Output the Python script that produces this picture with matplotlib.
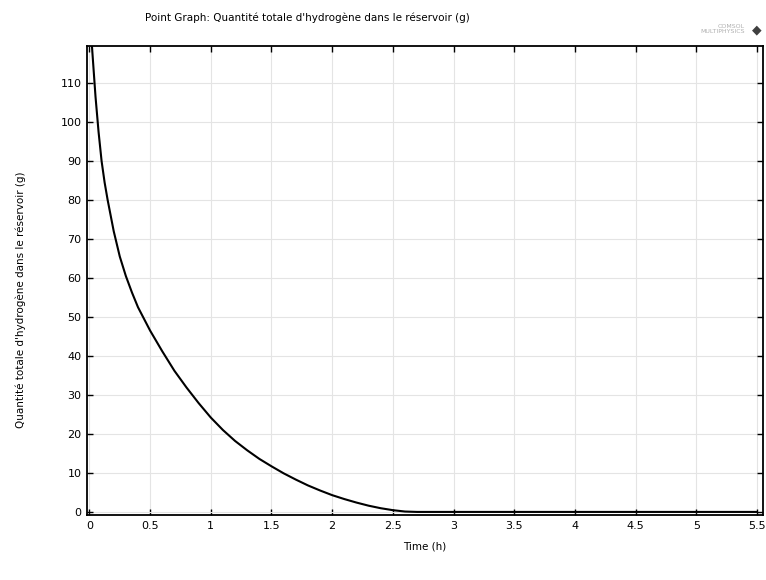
import numpy as np
import matplotlib.pyplot as plt

# time (h) and total hydrogen mass in the tank (g)
time_h = [0, 0.025, 0.05, 0.075, 0.1, 0.125, 0.15, 0.2, 0.25, 0.3, 0.35,
          0.4, 0.5, 0.6, 0.7, 0.8, 0.9, 1.0, 1.1, 1.2, 1.3, 1.4, 1.5, 1.6,
          1.7, 1.8, 1.9, 2.0, 2.1, 2.2, 2.3, 2.4, 2.5, 2.6, 2.7, 5.5]
mass_g = [129, 117.5, 106.5, 97.5, 90, 84.5, 80, 72, 65.5, 60.5, 56.3,
          52.5, 46.5, 41.2, 36.2, 31.9, 27.9, 24.2, 21.0, 18.2, 15.8, 13.6, 11.7, 9.9,
          8.3, 6.8, 5.5, 4.3, 3.3, 2.4, 1.6, 0.95, 0.45, 0.1, 0, 0]

xticks = [0, 0.5, 1, 1.5, 2, 2.5, 3, 3.5, 4, 4.5, 5, 5.5]
xticklabels = ["0", "0.5", "1", "1.5", "2", "2.5", "3", "3.5", "4", "4.5", "5", "5.5"]
yticks = [0, 10, 20, 30, 40, 50, 60, 70, 80, 90, 100, 110]

title = "Point Graph: Quantité totale d'hydrogène dans le réservoir (g)"
ylabel = "Quantité totale d'hydrogène dans le réservoir (g)"
xlabel = "Time (h)"

fig = plt.figure(figsize=(7.66, 5.8), dpi=100)
ax = fig.add_axes([0.1136, 0.112, 0.8825, 0.8087])

ax.plot(time_h, mass_g, color="black", lw=1.5)

ax.set_xlim(-0.02, 5.55)
ax.set_ylim(-0.8, 119.5)
ax.set_xticks(xticks)
ax.set_xticklabels(xticklabels)
ax.set_yticks(yticks)
ax.grid(True, color="#e4e4e4", lw=0.8)
ax.tick_params(direction="in", top=True, right=True, length=4, width=1,
               labelsize=8, pad=4)
for s in ax.spines.values():
    s.set_linewidth(1.3)

ax.set_xlabel(xlabel, fontsize=7.5, labelpad=8)
ax.set_ylabel(ylabel, fontsize=7.5)
ax.yaxis.set_label_coords(-0.09, 0.46)

fig.text(145 / 766, 1 - 18 / 580, title, fontsize=7.5, va="center", ha="left")
fig.text(745 / 766, 1 - 29 / 580, "COMSOL\nMULTIPHYSICS", fontsize=4.5,
         color="#b0b0b0", ha="right", va="center", linespacing=1.0)
fig.text(752 / 766, 1 - 30 / 580, "\u25C6", fontsize=9, color="#404040",
         ha="left", va="center")

fig.savefig("out.png", dpi=100)
